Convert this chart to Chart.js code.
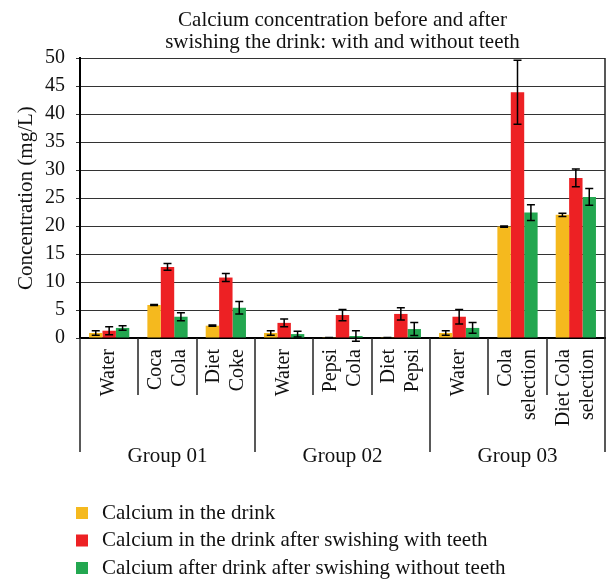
<!DOCTYPE html>
<html>
<head>
<meta charset="utf-8">
<script src="https://cdn.jsdelivr.net/npm/chart.js@4/dist/chart.umd.min.js"></script>
<style>
  body { margin: 0; background: #fff; }
</style>
</head>
<body>
<canvas id="myChart" width="608" height="579"></canvas>
<script>
// categories on the x axis (each one split in two lines like the original)
var categories = [['Water'], ['Coca', 'Cola'], ['Diet', 'Coke'],
                  ['Water'], ['Pepsi', 'Cola'], ['Diet', 'Pepsi'],
                  ['Water'], ['Cola', 'selection'], ['Diet Cola', 'selection']]
// groups under the categories, 3 categories each
var groups = ['Group 01', 'Group 02', 'Group 03']

// series values (mg/L) and their error bars
var inDrink = [0.9, 5.9, 2.2, 0.9, 0.05, 0.05, 0.9, 19.9, 22.0]
var inDrinkErr = [0.4, 0.1, 0.1, 0.4, 0.05, 0.05, 0.4, 0.1, 0.3]
var withTeeth = [1.3, 12.7, 10.8, 2.7, 4.1, 4.3, 3.8, 43.9, 28.6]
var withTeethErr = [0.7, 0.6, 0.7, 0.7, 1.0, 1.1, 1.3, 5.7, 1.6]
var withoutTeeth = [1.8, 3.8, 5.4, 0.7, 0.35, 1.6, 1.8, 22.4, 25.2]
var withoutTeethErr = [0.4, 0.7, 1.1, 0.5, 0.95, 1.15, 0.95, 1.4, 1.5]

var seriesNames = ['Calcium in the drink',
                   'Calcium in the drink after swishing with teeth',
                   'Calcium after drink after swishing without teeth']

// y axis ticks
var yMin = 0
var yMax = 50
var yStep = 5

var FONT = "'Liberation Serif', 'DejaVu Serif', serif"

// draws the black error bars on top of every bar
var errorBars = {
  id: 'errorBars',
  afterDatasetsDraw: function(chart) {
    var ctx = chart.ctx
    var y = chart.scales.y
    ctx.save()
    ctx.strokeStyle = '#000'
    ctx.lineWidth = 1.5
    chart.data.datasets.forEach(function(ds, i) {
      var meta = chart.getDatasetMeta(i)
      meta.data.forEach(function(bar, j) {
        var v = ds.data[j]
        var e = ds.errors[j]
        var top = y.getPixelForValue(v + e)
        var bottom = y.getPixelForValue(v - e)
        ctx.beginPath()
        ctx.moveTo(bar.x, top); ctx.lineTo(bar.x, bottom)
        ctx.moveTo(bar.x - 4, top); ctx.lineTo(bar.x + 4, top)
        ctx.moveTo(bar.x - 4, bottom); ctx.lineTo(bar.x + 4, bottom)
        ctx.stroke()
      })
    })
    ctx.restore()
  }
}

// category labels (rotated, lines centred on the category), separators under
// the x axis, group names and the legend list at the bottom
var groupAxis = {
  id: 'groupAxis',
  afterDraw: function(chart) {
    var ctx = chart.ctx
    var x = chart.scales.x
    var area = chart.chartArea
    var n = chart.data.labels.length
    var step = (area.right - area.left) / n
    ctx.save()
    ctx.strokeStyle = '#222'
    ctx.lineWidth = 1.5
    for (var i = 0; i <= n; i++) {
      var px = Math.round(area.left + i * step)
      var isGroup = (i % 3 == 0)
      ctx.beginPath()
      ctx.moveTo(px, area.bottom)
      ctx.lineTo(px, isGroup ? area.bottom + 114 : area.bottom + 57)
      if (i == n) ctx.moveTo(px, area.top), ctx.lineTo(px, area.bottom)
      ctx.stroke()
    }

    ctx.fillStyle = '#111'
    ctx.font = '20px ' + FONT
    ctx.textAlign = 'right'
    ctx.textBaseline = 'middle'
    chart.data.labels.forEach(function(lines, i) {
      var cx = x.getPixelForValue(i)
      lines.forEach(function(line, k) {
        var lx = cx + (k - (lines.length - 1) / 2) * 23.5
        ctx.save()
        ctx.translate(lx, area.bottom + 11)
        ctx.rotate(-Math.PI / 2)
        ctx.fillText(line, 0, 0)
        ctx.restore()
      })
    })

    ctx.font = '21px ' + FONT
    ctx.textAlign = 'center'
    groups.forEach(function(g, k) {
      var cx = (x.getPixelForValue(k * 3) + x.getPixelForValue(k * 3 + 2)) / 2
      ctx.fillText(g, cx, area.bottom + 118)
    })

    // legend, one item per row
    ctx.textAlign = 'left'
    chart.data.datasets.forEach(function(ds, i) {
      var cy = 513 + i * 27.5
      ctx.fillStyle = ds.backgroundColor
      ctx.fillRect(76, cy - 6, 12, 12)
      ctx.fillStyle = '#111'
      ctx.fillText(ds.label, 102, cy)
    })
    ctx.restore()
  }
}

function updateChart() {
  var ctx = document.getElementById('myChart').getContext('2d')
  var chart = new Chart(ctx, {
    type: 'bar',
    data: {
      labels: categories,
      datasets: [{
        label: seriesNames[0],
        backgroundColor: 'rgb(245, 185, 30)',
        data: inDrink,
        errors: inDrinkErr
      }, {
        label: seriesNames[1],
        backgroundColor: 'rgb(237, 33, 36)',
        data: withTeeth,
        errors: withTeethErr
      }, {
        label: seriesNames[2],
        backgroundColor: 'rgb(35, 167, 80)',
        data: withoutTeeth,
        errors: withoutTeethErr
      }]
    },
    options: {
      responsive: false,
      animation: false,
      devicePixelRatio: 1,
      categoryPercentage: 0.69,
      barPercentage: 1.0,
      layout: { padding: { left: 0, right: 3, top: 0, bottom: 109 } },
      plugins: {
        legend: { display: false },
        tooltip: { enabled: false },
        title: {
          display: true,
          fullSize: false,  // centre the title over the plot, not the canvas
          text: ['Calcium concentration before and after', 'swishing the drink: with and without teeth'],
          color: '#111',
          font: { family: FONT, size: 21, weight: 'normal', lineHeight: 1.05 },
          padding: { top: 9, bottom: 5 }
        }
      },
      scales: {
        x: {
          grid: { drawOnChartArea: false, drawTicks: false },
          border: { display: true, color: '#000', width: 2 },
          ticks: { display: false },
          afterFit: function(scale) {
            scale.height = 132
            scale.paddingLeft = 0
            scale.paddingRight = 0
          }
        },
        y: {
          min: yMin,
          max: yMax,
          grid: { color: '#333', lineWidth: 1, tickLength: 4 },
          border: { color: '#000', width: 2 },
          ticks: {
            stepSize: yStep,
            color: '#111',
            font: { family: FONT, size: 20 },
            padding: 11
          },
          title: {
            display: true,
            text: 'Concentration (mg/L)',
            color: '#111',
            font: { family: FONT, size: 21 },
            padding: { top: 14, bottom: 0 }
          },
          afterFit: function(scale) { scale.width = 80 }
        }
      }
    },
    plugins: [errorBars, groupAxis]
  })
}

updateChart()
</script>
</body>
</html>
